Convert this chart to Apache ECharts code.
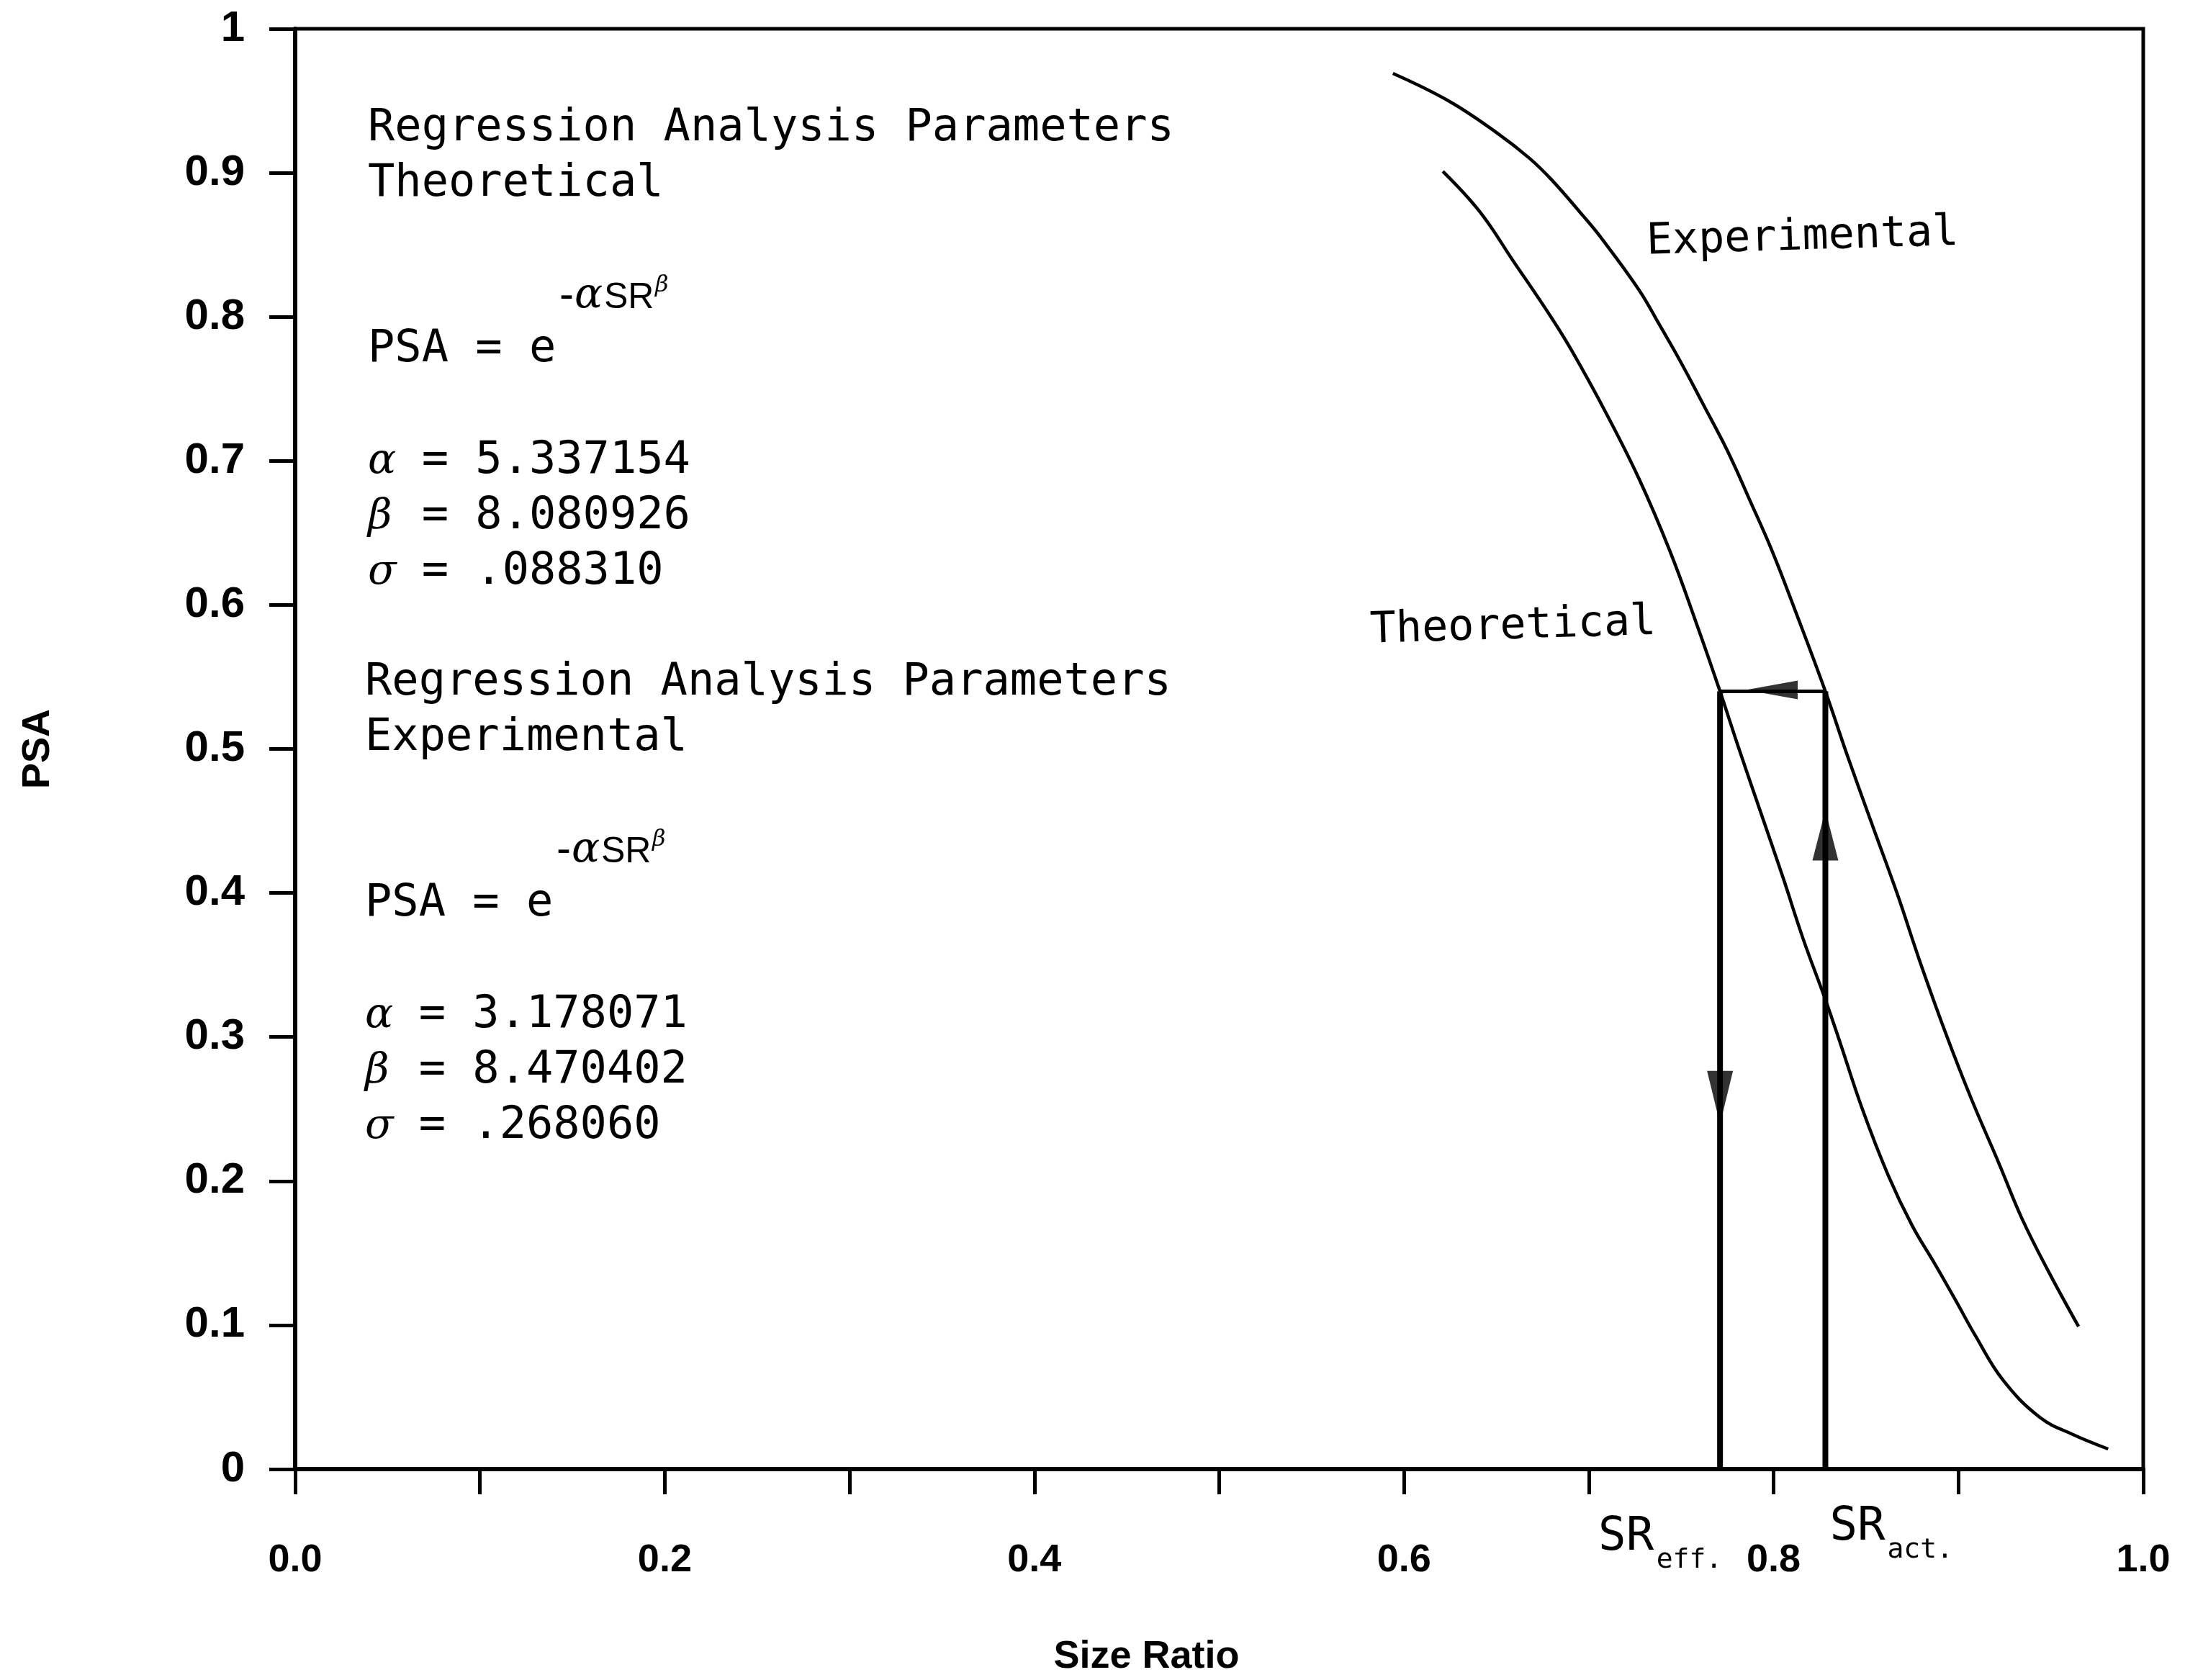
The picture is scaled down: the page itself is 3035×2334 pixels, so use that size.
<!DOCTYPE html>
<html>
<head>
<meta charset="utf-8">
<script src="https://cdn.jsdelivr.net/npm/echarts@6/dist/echarts.min.js"></script>
<style>
  html, body { margin: 0; padding: 0; background: #fff; }
  #chart { width: 3035px; height: 2334px; }
</style>
</head>
<body>
<div id="chart"></div>
<script>
// PSA against size ratio: fitted theoretical and experimental curves,
// with the SR_act -> SR_eff construction.

// Tick labels
const xTickLabels = ['0.0', '0.2', '0.4', '0.6', '0.8', '1.0'];
const yTickLabels = ['0', '0.1', '0.2', '0.3', '0.4', '0.5', '0.6', '0.7', '0.8', '0.9', '1'];

// Experimental curve (size ratio, PSA)
const experimentalSR  = [0.594, 0.624, 0.650, 0.668, 0.680, 0.697, 0.706, 0.727, 0.738, 0.750, 0.762, 0.775, 0.787, 0.799, 0.812, 0.828, 0.840, 0.854, 0.867, 0.879, 0.893, 0.907, 0.922, 0.934, 0.948, 0.965];
const experimentalPSA = [0.969, 0.950, 0.928, 0.910, 0.895, 0.870, 0.856, 0.819, 0.795, 0.768, 0.739, 0.707, 0.673, 0.638, 0.595, 0.540, 0.495, 0.445, 0.399, 0.353, 0.303, 0.257, 0.212, 0.175, 0.139, 0.099];

// Theoretical curve (size ratio, PSA)
const theoreticalSR  = [0.621, 0.641, 0.659, 0.680, 0.691, 0.709, 0.727, 0.744, 0.758, 0.771, 0.781, 0.793, 0.805, 0.816, 0.828, 0.836, 0.848, 0.862, 0.875, 0.887, 0.899, 0.909, 0.924, 0.944, 0.962, 0.981];
const theoreticalPSA = [0.901, 0.873, 0.839, 0.799, 0.776, 0.734, 0.688, 0.637, 0.588, 0.540, 0.501, 0.456, 0.411, 0.368, 0.326, 0.296, 0.250, 0.204, 0.169, 0.143, 0.116, 0.093, 0.062, 0.036, 0.024, 0.014];

// Construction: actual size ratio -> PSA level -> effective size ratio
const SR_ACT = 0.828;
const SR_EFF = 0.771;
const PSA_LEVEL = 0.540;

// Arrowheads on the construction lines
const arrowSR   = [SR_ACT, SR_EFF, 0.799];
const arrowPSA  = [0.440, 0.258, 0.541];
const arrowDir  = ['up', 'down', 'left'];

// Regression parameters (alpha, beta, sigma)
const theoreticalParams  = ['5.337154', '8.080926', '.088310'];
const experimentalParams = ['3.178071', '8.470402', '.268060'];

const MONO  = '"DejaVu Sans Mono", "Liberation Mono", monospace';
const SANS  = '"Liberation Sans", Arial, sans-serif';
const SERIF = '"DejaVu Serif", "Liberation Serif", serif';

const pairs = (xs, ys) => xs.map((x, i) => [x, ys[i]]);
const black = '#000';

const rotationFor = { up: 0, down: 180, left: 90 };
const sizeFor = { up: [36, 70], down: [36, 74], left: [26, 72] };

const option = {
  animation: false,
  backgroundColor: '#fff',
  grid: {
    left: 410, top: 40, width: 2567, height: 2017,
    show: true, borderColor: black, borderWidth: 5, backgroundColor: 'transparent'
  },
  xAxis: {
    type: 'value', min: 0, max: 1, interval: 0.1,
    axisLine: { show: true, onZero: false, lineStyle: { color: black, width: 6 } },
    axisTick: { show: true, length: 35, lineStyle: { color: black, width: 5 } },
    splitLine: { show: false },
    axisLabel: {
      margin: 100, color: black, fontFamily: SANS, fontWeight: 'bold', fontSize: 54,
      formatter: v => { const s = v.toFixed(1); return xTickLabels.includes(s) ? s : ''; }
    },
    name: 'Size Ratio', nameLocation: 'middle', nameGap: 234,
    nameTextStyle: { color: black, fontFamily: SANS, fontWeight: 'bold', fontSize: 54, padding: [0, 202, 0, 0] }
  },
  yAxis: {
    type: 'value', min: 0, max: 1, interval: 0.1,
    axisLine: { show: true, onZero: false, lineStyle: { color: black, width: 6 } },
    axisTick: { show: true, length: 36, lineStyle: { color: black, width: 5 } },
    splitLine: { show: false },
    axisLabel: {
      margin: 70, color: black, fontFamily: SANS, fontWeight: 'bold', fontSize: 60,
      formatter: v => yTickLabels[Math.round(v * 10)]
    },
    name: 'PSA', nameLocation: 'middle', nameGap: 330, nameRotate: 90,
    nameTextStyle: { color: black, fontFamily: SANS, fontWeight: 'bold', fontSize: 54 }
  },
  series: [
    {
      name: 'Experimental', type: 'line', smooth: 0.4, showSymbol: false, silent: true,
      data: pairs(experimentalSR, experimentalPSA),
      lineStyle: { color: black, width: 4.5 }
    },
    {
      name: 'Theoretical', type: 'line', smooth: 0.4, showSymbol: false, silent: true,
      data: pairs(theoreticalSR, theoreticalPSA),
      lineStyle: { color: black, width: 4.5 }
    },
    {
      type: 'line', showSymbol: false, silent: true,
      data: [[SR_ACT, 0], [SR_ACT, PSA_LEVEL]],
      lineStyle: { color: black, width: 8 }
    },
    {
      type: 'line', showSymbol: false, silent: true,
      data: [[SR_ACT, PSA_LEVEL], [SR_EFF, PSA_LEVEL]],
      lineStyle: { color: black, width: 5 }
    },
    {
      type: 'line', showSymbol: false, silent: true,
      data: [[SR_EFF, PSA_LEVEL], [SR_EFF, 0]],
      lineStyle: { color: black, width: 8 }
    },
    {
      type: 'scatter', symbol: 'triangle', silent: true, z: 5,
      itemStyle: { color: black },
      data: arrowSR.map((x, i) => ({
        value: [x, arrowPSA[i]],
        symbolRotate: rotationFor[arrowDir[i]],
        symbolSize: sizeFor[arrowDir[i]]
      }))
    }
  ]
};

const chart = echarts.init(document.getElementById('chart'));
chart.setOption(option);

// Text placed by its baseline
function label(x, baseline, text, size, opts) {
  opts = opts || {};
  return {
    type: 'text', silent: true, z: 10,
    x: x, y: baseline - 0.346 * size,
    rotation: opts.rotation || 0,
    style: {
      text: text, fill: black,
      fontFamily: opts.family || MONO, fontSize: size,
      fontStyle: opts.style || 'normal', fontWeight: opts.weight || 'normal',
      align: opts.align || 'left', verticalAlign: 'middle'
    }
  };
}

function paramBlock(x, top, kind, params) {
  const adv = 0.602 * 62;
  const els = [
    label(x, top, 'Regression Analysis Parameters', 62),
    label(x, top + 77, kind, 62)
  ];
  // exponent of e: -alpha SR^beta
  const ex = x + 266, ey = top + 232;
  els.push(label(ex, ey, '-', 60, { family: SANS }));
  els.push(label(ex + 21, ey, 'α', 58, { family: SERIF, style: 'italic' }));
  els.push(label(ex + 62, ey, 'SR', 50, { family: SANS }));
  els.push(label(ex + 133, ey - 24, 'β', 32, { family: SERIF, style: 'italic' }));
  els.push(label(x, top + 307, 'PSA = e', 62));
  ['α', 'β', 'σ'].forEach((g, i) => {
    const bl = top + 462 + i * 77;
    els.push(label(x, bl, g, 58, { family: SERIF, style: 'italic' }));
    els.push(label(x + 2 * adv, bl, '= ' + params[i], 62));
  });
  return els;
}

const xEff = chart.convertToPixel({ xAxisIndex: 0 }, SR_EFF);
const xAct = chart.convertToPixel({ xAxisIndex: 0 }, SR_ACT);

const graphics = []
  .concat(paramBlock(511, 200, 'Theoretical', theoreticalParams))
  .concat(paramBlock(507, 970, 'Experimental', experimentalParams))
  .concat([
    label(2287, 358, 'Experimental', 60, { rotation: 0.03 }),
    label(1903, 898, 'Theoretical', 60, { rotation: 0.03 }),
    // size-ratio markers under the axis
    label(xEff - 92, 2159, 'SR', 64, { align: 'right' }),
    label(xEff + 3, 2181, 'eff.', 38, { align: 'right' }),
    label(xAct + 6, 2145, 'SR', 64),
    label(xAct + 86, 2167, 'act.', 38)
  ]);

chart.setOption({ graphic: graphics });
</script>
</body>
</html>
